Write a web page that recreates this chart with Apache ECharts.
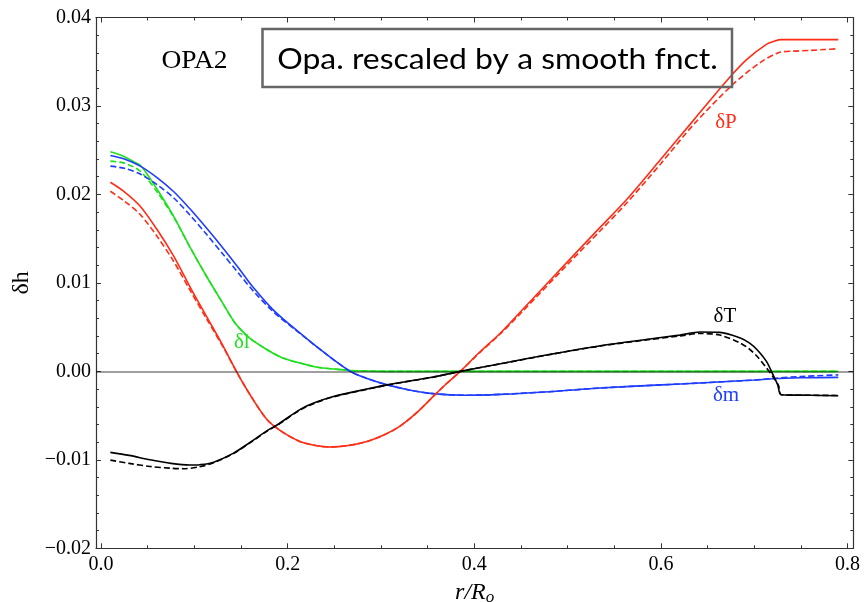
<!DOCTYPE html>
<html>
<head>
<meta charset="utf-8">
<script src="https://cdn.jsdelivr.net/npm/echarts@6/dist/echarts.min.js"></script>
<style>
  html, body { margin: 0; padding: 0; background: #ffffff; }
  #chart { width: 864px; height: 602px; }
</style>
</head>
<body>
<div id="chart"></div>
<script>
// ---- profile data: relative differences delta h versus r/R_o ----
// delta P (pressure), solid = reference model, dashed = rescaled opacity
const rPs = [0.010,0.025,0.042,0.060,0.078,0.095,0.113,0.131,0.145,0.160,0.178,0.195,0.213,0.230,0.245,0.265,0.285,0.303,0.320,0.338,0.356,0.370,0.385,0.405,0.428,0.450,0.500,0.535,0.563,0.600,0.635,0.670,0.692,0.713,0.722,0.729,0.760,0.790];
const dPs = [0.02138,0.02030,0.01867,0.01603,0.01300,0.00962,0.00622,0.00283,0.00000,-0.00270,-0.00546,-0.00690,-0.00792,-0.00838,-0.00855,-0.00838,-0.00792,-0.00720,-0.00622,-0.00470,-0.00283,-0.00140,0.00000,0.00210,0.00434,0.00680,0.01240,0.01630,0.01940,0.02400,0.02840,0.03280,0.03526,0.03696,0.03735,0.03750,0.03750,0.03750];
const rPd = [0.010,0.025,0.042,0.060,0.078,0.095,0.113,0.131,0.145,0.160,0.178,0.195,0.213,0.230,0.245,0.265,0.285,0.303,0.320,0.338,0.356,0.370,0.385,0.405,0.428,0.450,0.500,0.535,0.563,0.600,0.635,0.677,0.706,0.726,0.742,0.760,0.775,0.790];
const dPd = [0.02036,0.01925,0.01773,0.01527,0.01240,0.00924,0.00595,0.00272,0.00000,-0.00270,-0.00546,-0.00690,-0.00792,-0.00838,-0.00855,-0.00838,-0.00792,-0.00720,-0.00622,-0.00470,-0.00283,-0.00140,0.00000,0.00205,0.00425,0.00660,0.01210,0.01590,0.01900,0.02350,0.02790,0.03243,0.03488,0.03602,0.03620,0.03628,0.03638,0.03647];

// delta T (temperature)
const rTs = [0.010,0.030,0.0525,0.075,0.095,0.106,0.120,0.142,0.160,0.178,0.189,0.213,0.230,0.249,0.285,0.308,0.330,0.356,0.385,0.428,0.480,0.535,0.588,0.620,0.642,0.663,0.685,0.695,0.703,0.713,0.720,0.725,0.729,0.760,0.790];
const dTs = [-0.00916,-0.00950,-0.00999,-0.01040,-0.01059,-0.01055,-0.01029,-0.00924,-0.00800,-0.00670,-0.00603,-0.00433,-0.00350,-0.00283,-0.00200,-0.00150,-0.00110,-0.00064,0.00000,0.00087,0.00190,0.00290,0.00366,0.00410,0.00445,0.00441,0.00378,0.00320,0.00245,0.00113,-0.00037,-0.00150,-0.00264,-0.00270,-0.00275];
const rTd = [0.010,0.030,0.0525,0.075,0.088,0.105,0.120,0.142,0.160,0.178,0.189,0.213,0.230,0.249,0.285,0.308,0.330,0.356,0.385,0.428,0.480,0.535,0.588,0.620,0.642,0.663,0.685,0.695,0.703,0.713,0.720,0.726,0.729,0.760,0.790];
const dTd = [-0.01003,-0.01040,-0.01075,-0.01095,-0.01100,-0.01080,-0.01035,-0.00930,-0.00805,-0.00675,-0.00608,-0.00438,-0.00355,-0.00288,-0.00203,-0.00152,-0.00112,-0.00066,0.00000,0.00085,0.00188,0.00286,0.00360,0.00400,0.00428,0.00410,0.00320,0.00250,0.00170,0.00040,-0.00060,-0.00160,-0.00265,-0.00270,-0.00272];

// delta m (mass)
const rMs = [0.010,0.025,0.042,0.060,0.078,0.095,0.113,0.131,0.148,0.163,0.185,0.213,0.240,0.267,0.285,0.306,0.330,0.356,0.390,0.428,0.480,0.535,0.600,0.642,0.700,0.720,0.750,0.790];
const dMs = [0.02440,0.02400,0.02320,0.02190,0.02030,0.01840,0.01620,0.01390,0.01160,0.00950,0.00690,0.00434,0.00205,0.00000,-0.00080,-0.00150,-0.00210,-0.00252,-0.00270,-0.00260,-0.00230,-0.00188,-0.00153,-0.00131,-0.00098,-0.00083,-0.00073,-0.00068];
const rMd = [0.010,0.025,0.042,0.060,0.078,0.095,0.113,0.131,0.148,0.163,0.185,0.213,0.240,0.267,0.285,0.306,0.330,0.356,0.390,0.428,0.480,0.535,0.600,0.642,0.700,0.720,0.750,0.790];
const dMd = [0.02320,0.02295,0.02230,0.02110,0.01960,0.01770,0.01550,0.01320,0.01100,0.00910,0.00670,0.00430,0.00205,0.00000,-0.00080,-0.00150,-0.00210,-0.00252,-0.00270,-0.00260,-0.00230,-0.00188,-0.00153,-0.00131,-0.00098,-0.00080,-0.00058,-0.00040];

// delta l (luminosity)
const rLs = [0.010,0.024,0.035,0.042,0.050,0.060,0.078,0.095,0.113,0.131,0.142,0.149,0.160,0.178,0.195,0.213,0.230,0.256,0.267,0.290,0.310,0.500,0.790];
const dLs = [0.02482,0.02432,0.02370,0.02330,0.02220,0.02060,0.01750,0.01410,0.01075,0.00760,0.00570,0.00480,0.00370,0.00245,0.00150,0.00095,0.00050,0.00020,0.00010,0.00003,0.00000,0.00000,0.00000];
const rLd = [0.010,0.024,0.035,0.042,0.050,0.060,0.078,0.095,0.113,0.131,0.142,0.149,0.160,0.178,0.195,0.213,0.230,0.256,0.267,0.290,0.310,0.500,0.790];
const dLd = [0.02376,0.02357,0.02310,0.02262,0.02170,0.02030,0.01740,0.01410,0.01075,0.00760,0.00570,0.00480,0.00370,0.00245,0.00150,0.00095,0.00050,0.00020,0.00010,0.00003,0.00000,0.00000,0.00000];

// axis ticks
const xMajor = [0, 0.2, 0.4, 0.6, 0.8];
const xMinor = [0.05, 0.1, 0.15, 0.25, 0.3, 0.35, 0.45, 0.5, 0.55, 0.65, 0.7, 0.75];
const yMajor = [-0.02, -0.01, 0.00, 0.01, 0.02, 0.03, 0.04];
const yMinor = [-0.018,-0.016,-0.014,-0.012,-0.008,-0.006,-0.004,-0.002,0.002,0.004,0.006,0.008,0.012,0.014,0.016,0.018,0.022,0.024,0.026,0.028,0.032,0.034,0.036,0.038];

// curve labels: text, colour, anchor in data coordinates
const curveLabels = [
  { text: 'δP', color: '#ff2d16', at: [0.6697, 0.02813] },
  { text: 'δT', color: '#000000', at: [0.6686, 0.00619] },
  { text: 'δm', color: '#1e3dff', at: [0.6697, -0.00275] },
  { text: 'δl', color: '#1fe01f', at: [0.1508, 0.00330] }
];

const RED = '#ff2d16', BLUE = '#1e3dff', GREEN = '#1fe01f', BLACK = '#000000';
const SERIF = '"Liberation Serif", "DejaVu Serif", serif';
const FRAME = '#333333';

const zip = (xs, ys) => xs.map((x, i) => [x, ys[i]]);

const X_MIN = -0.0054, X_MAX = 0.8061;

function xAxisDef(pos, ticks, len, withLabels) {
  return {
    type: 'value', position: pos, min: X_MIN, max: X_MAX,
    axisLine: { show: withLabels !== null, onZero: false, lineStyle: { color: FRAME, width: 1.2 } },
    axisTick: { show: true, inside: true, length: len, customValues: ticks, lineStyle: { color: FRAME, width: 1 } },
    axisLabel: withLabels ? {
      show: true, customValues: xMajor, margin: 6,
      fontFamily: SERIF, fontSize: 20, color: '#000',
      formatter: v => v.toFixed(1)
    } : { show: false },
    splitLine: { show: false }
  };
}
function yAxisDef(pos, ticks, len, withLabels) {
  return {
    type: 'value', position: pos, min: -0.02, max: 0.04,
    axisLine: { show: withLabels !== null, onZero: false, lineStyle: { color: FRAME, width: 1.2 } },
    axisTick: { show: true, inside: true, length: len, customValues: ticks, lineStyle: { color: FRAME, width: 1 } },
    axisLabel: withLabels ? {
      show: true, customValues: yMajor, margin: 5,
      fontFamily: SERIF, fontSize: 20, color: '#000',
      formatter: v => (v < -1e-9 ? '\u2212' : '') + Math.abs(v).toFixed(2)
    } : { show: false },
    splitLine: { show: false }
  };
}

const xAxes = [
  xAxisDef('bottom', xMajor, 5, true),
  xAxisDef('bottom', xMinor, 3, null),
  xAxisDef('top', xMajor, 5, false),
  xAxisDef('top', xMinor, 3, null)
];
xAxes[0].name = '{i|r/R}{s|o}';
xAxes[0].nameLocation = 'middle';
xAxes[0].nameGap = 31;
xAxes[0].nameTextStyle = {
  rich: {
    i: { fontFamily: SERIF, fontStyle: 'italic', fontSize: 24, color: '#000' },
    s: { fontFamily: SERIF, fontStyle: 'italic', fontSize: 17, color: '#000', padding: [10, 0, 0, 0] }
  }
};

const yAxes = [
  yAxisDef('left', yMajor, 5, true),
  yAxisDef('left', yMinor, 3, null),
  yAxisDef('right', yMajor, 5, false),
  yAxisDef('right', yMinor, 3, null)
];
yAxes[0].name = 'δh';
yAxes[0].nameLocation = 'middle';
yAxes[0].nameRotate = 90;
yAxes[0].nameGap = 52;
yAxes[0].nameTextStyle = { fontFamily: SERIF, fontSize: 24, color: '#000' };

function line(name, data, color, dashed) {
  return {
    name, type: 'line', data, xAxisIndex: 0, yAxisIndex: 0,
    showSymbol: false, symbol: 'none', smooth: 0.3,
    lineStyle: { color, width: 1.6, type: dashed ? [6, 3] : 'solid' },
    itemStyle: { color }, z: 3, silent: true
  };
}

const series = [
  line('δl', zip(rLs, dLs), GREEN, false),
  line('δl (rescaled)', zip(rLd, dLd), GREEN, true),
  line('δm', zip(rMs, dMs), BLUE, false),
  line('δm (rescaled)', zip(rMd, dMd), BLUE, true),
  line('δP', zip(rPs, dPs), RED, false),
  line('δP (rescaled)', zip(rPd, dPd), RED, true),
  line('δT', zip(rTs, dTs), BLACK, false),
  line('δT (rescaled)', zip(rTd, dTd), BLACK, true)
];
// zero reference line, semi-transparent and drawn above the curves
series[7].markLine = {
  silent: true, symbol: 'none', z: 6,
  label: { show: false },
  lineStyle: { color: 'rgba(0,0,0,0.5)', width: 1.6, type: 'solid' },
  emphasis: { disabled: true },
  data: [{ yAxis: 0 }]
};

const chart = echarts.init(document.getElementById('chart'), null, { renderer: 'canvas' });
chart.setOption({
  animation: false,
  backgroundColor: '#ffffff',
  grid: { left: 96, right: 10.7, top: 17.5, bottom: 53.7, containLabel: false, outerBoundsMode: 'none' },
  xAxis: xAxes,
  yAxis: yAxes,
  series
});

const labelGraphics = curveLabels.map(l => {
  const p = chart.convertToPixel({ xAxisIndex: 0, yAxisIndex: 0 }, l.at);
  return {
    type: 'text', x: p[0], y: p[1], z: 10, silent: true,
    style: { text: l.text, fill: l.color, font: '21px ' + SERIF, align: 'center', verticalAlign: 'middle' }
  };
});

chart.setOption({
  graphic: [
    {
      type: 'text', x: 194.5, y: 61, z: 10, silent: true, scaleX: 1.1,
      style: { text: 'OPA2', fill: '#000', font: '25px ' + SERIF, align: 'center', verticalAlign: 'middle' }
    },
    {
      type: 'rect', z: 10, silent: true,
      shape: { x: 262.5, y: 29, width: 469.5, height: 58 },
      style: { fill: 'none', stroke: '#666666', lineWidth: 2.5 }
    },
    {
      type: 'text', x: 497.5, y: 60, z: 11, silent: true, scaleX: 1.14,
      style: { text: 'Opa. rescaled by a smooth fnct.', fill: '#000', font: '28px Lato, "Open Sans", sans-serif', align: 'center', verticalAlign: 'middle' }
    }
  ].concat(labelGraphics)
});
</script>
</body>
</html>
